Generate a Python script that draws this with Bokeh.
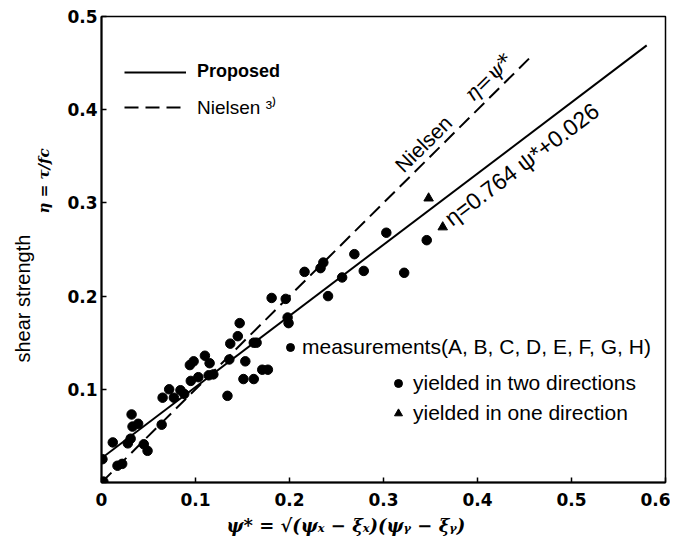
import math
from bokeh.plotting import figure
from bokeh.models import Label, Legend, LegendItem, FixedTicker, Title
from bokeh.embed import file_html
from bokeh.resources import INLINE

# measurements yielded in two directions (circles)
two_dir_x = [0.001, 0.002, 0.012, 0.017, 0.022, 0.028, 0.031, 0.032, 0.033, 0.039,
             0.045, 0.049, 0.064, 0.065, 0.072, 0.077, 0.084, 0.088, 0.094, 0.098,
             0.095, 0.103, 0.110, 0.115, 0.114, 0.119, 0.134, 0.136, 0.137, 0.145,
             0.147, 0.153, 0.151, 0.162, 0.162, 0.165, 0.171, 0.177, 0.181, 0.196,
             0.198, 0.199, 0.216, 0.233, 0.236, 0.256, 0.241, 0.269, 0.279, 0.303,
             0.322, 0.346]
two_dir_y = [0.025, 0.001, 0.043, 0.018, 0.020, 0.042, 0.047, 0.073, 0.060, 0.063,
             0.041, 0.034, 0.062, 0.091, 0.100, 0.091, 0.099, 0.095, 0.126, 0.130,
             0.109, 0.113, 0.136, 0.128, 0.115, 0.116, 0.093, 0.132, 0.149, 0.157,
             0.171, 0.130, 0.111, 0.111, 0.150, 0.150, 0.121, 0.121, 0.198, 0.197,
             0.177, 0.171, 0.226, 0.230, 0.236, 0.220, 0.200, 0.245, 0.227, 0.268,
             0.225, 0.260]
# measurements yielded in one direction (triangles)
one_dir_x = [0.348, 0.363]
one_dir_y = [0.305, 0.274]

# regression lines
proposed_x = [0.0, 0.58]
proposed_y = [0.026, 0.469]
nielsen_x = [0.0, 0.455]
nielsen_y = [0.0, 0.455]

x_ticks = [0, 0.1, 0.2, 0.3, 0.4, 0.5, 0.6]
y_ticks = [0, 0.1, 0.2, 0.3, 0.4, 0.5]

p = figure(width=670, height=540, x_range=(0, 0.6), y_range=(0, 0.5),
           output_backend="svg", toolbar_location=None,
           min_border_left=101, min_border_right=5, min_border_top=16, min_border_bottom=58)
p.background_fill_color = "white"
p.border_fill_color = "white"
p.outline_line_color = "black"
p.outline_line_width = 1.5
p.xgrid.visible = False
p.ygrid.visible = False

for ax in (p.xaxis[0], p.yaxis[0]):
    ax.axis_line_color = "black"
    ax.axis_line_width = 2
    ax.major_tick_in = 5
    ax.major_tick_out = 0
    ax.major_tick_line_color = "black"
    ax.major_tick_line_width = 1.5
    ax.minor_tick_line_color = None
    ax.major_label_text_font = "DejaVu Sans"
    ax.major_label_text_font_style = "bold"
    ax.major_label_text_font_size = "17px"
    ax.major_label_text_color = "black"

p.xaxis.ticker = FixedTicker(ticks=x_ticks)
p.yaxis.ticker = FixedTicker(ticks=y_ticks)
p.xaxis.major_label_overrides = {0: "0"}
p.yaxis.major_label_overrides = {0: ""}
p.xaxis.major_label_standoff = 10
p.yaxis.major_label_standoff = 4

r_prop = p.line(proposed_x, proposed_y, line_color="black", line_width=2)
r_niel = p.line(nielsen_x, nielsen_y, line_color="black", line_width=2, line_dash="14 7")
r_two = p.scatter(two_dir_x, two_dir_y, marker="circle", size=9.5, color="black")
r_one = p.scatter(one_dir_x, one_dir_y, marker="triangle", size=9.5, color="black")


def make_legend(items, loc, size, style, glyph_w, glyph_h, standoff, spacing=0):
    lg = Legend(items=items, location=loc, padding=0, margin=0,
                background_fill_alpha=0, border_line_alpha=0,
                glyph_width=glyph_w, glyph_height=glyph_h, label_height=20,
                label_standoff=standoff, spacing=spacing,
                label_text_font="Liberation Sans", label_text_font_size=size,
                label_text_font_style=style, label_text_color="black")
    p.add_layout(lg)
    return lg


make_legend([LegendItem(label="Proposed", renderers=[r_prop])], (23, 400), "18px", "bold", 62, 20, 11)
make_legend([LegendItem(label="Nielsen ³⁾", renderers=[r_niel])], (23, 362), "19px", "normal", 62, 20, 11)
make_legend([LegendItem(label="measurements(A, B, C, D, E, F, G, H)", renderers=[r_two])],
            (179, 123), "21px", "normal", 20, 20, 2)
make_legend([LegendItem(label="yielded in two directions", renderers=[r_two]),
             LegendItem(label="yielded in one direction", renderers=[r_one])],
            (287, 57), "21px", "normal", 20, 20, 5, spacing=6)

# in-plot line annotations
niel_ang = math.atan(93.2 / 94)
prop_ang = math.atan(0.764 * 93.2 / 94)
p.add_layout(Label(x=0.316, y=0.337, text="Nielsen", angle=niel_ang,
                   text_font="Liberation Sans", text_font_size="21px",
                   text_baseline="alphabetic", text_color="black"))
p.add_layout(Label(x=0.390, y=0.413, text="η=ψ*", angle=niel_ang,
                   text_font="DejaVu Serif", text_font_style="italic", text_font_size="21px",
                   text_baseline="alphabetic", text_color="black"))
p.add_layout(Label(x=0.368, y=0.281, text="η=0.764 ψ*+0.026", angle=prop_ang,
                   text_font="Liberation Sans", text_font_size="23px",
                   text_baseline="alphabetic", text_color="black"))

# axis titles as side panels
p.add_layout(Title(text="η = τ/fc", align="left", offset=269, standoff=24,
                   text_font="DejaVu Serif", text_font_style="bold italic",
                   text_font_size="15px", text_color="black"), "left")
p.add_layout(Title(text="shear strength", align="left", offset=120, standoff=-26,
                   text_font="Liberation Sans", text_font_style="normal",
                   text_font_size="20px", text_color="black"), "left")
p.add_layout(Title(text="ψ* = √(ψₓ − ξₓ)(ψᵧ − ξᵧ)", align="left", offset=125, standoff=9,
                   text_font="DejaVu Serif", text_font_style="bold italic",
                   text_font_size="18px", text_color="black"), "below")

open("out.html", "w").write(file_html(p, INLINE))
